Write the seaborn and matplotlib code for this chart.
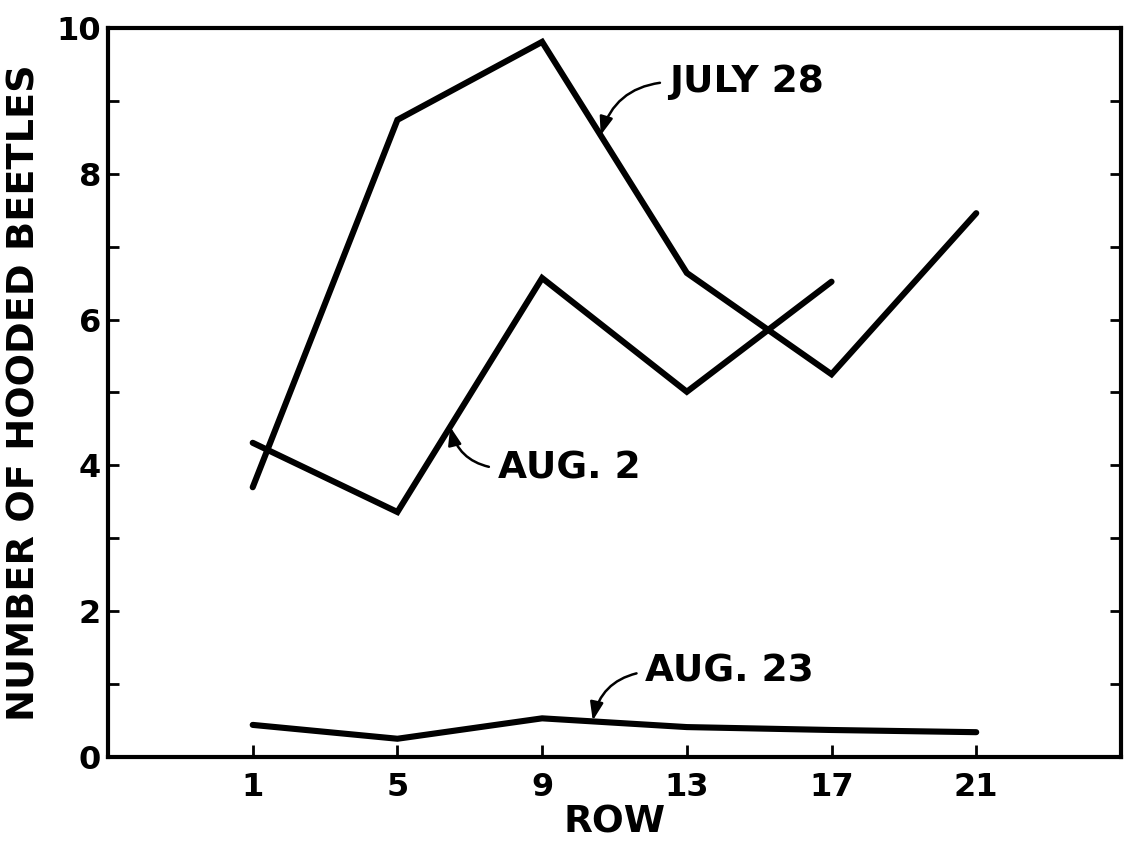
import matplotlib
matplotlib.use("Agg")
import matplotlib.pyplot as plt
import seaborn as sns

# Hooded beetle counts by row on three sampling dates
rows = [1, 5, 9, 13, 17, 21]
july_28 = [3.70, 8.74, 9.81, 6.64, 5.25, 7.46]
aug_2_rows = [1, 5, 9, 13, 17]
aug_2 = [4.31, 3.36, 6.57, 5.01, 6.52]
aug_23 = [0.44, 0.25, 0.53, 0.41, 0.37, 0.34]

y_major = [0, 2, 4, 6, 8, 10]
y_minor = [1, 3, 5, 7, 9]

sns.set_theme(style="ticks")
plt.rcParams["font.family"] = ["DejaVu Sans"]
plt.rcParams["font.weight"] = "bold"
plt.rcParams["text.color"] = "black"
plt.rcParams["axes.labelcolor"] = "black"

fig = plt.figure(figsize=(11.25, 8.49), dpi=100)
ax = fig.add_axes([0.096, 0.1084, 0.9004, 0.8586])

line_kw = dict(color="black", linewidth=4.4, solid_capstyle="round",
               solid_joinstyle="miter", legend=False)
sns.lineplot(x=rows, y=july_28, ax=ax, **line_kw)
sns.lineplot(x=aug_2_rows, y=aug_2, ax=ax, **line_kw)
sns.lineplot(x=rows, y=aug_23, ax=ax, **line_kw)

ax.set_xlim(-3, 25)
ax.set_ylim(0, 10)

for side in ["left", "right", "top", "bottom"]:
    ax.spines[side].set_visible(True)
    ax.spines[side].set_linewidth(3)
    ax.spines[side].set_color("black")

ax.set_xticks(rows)
ax.set_xticklabels([str(r) for r in rows])
ax.set_yticks(y_major)
ax.set_yticks(y_minor, minor=True)
ax.set_yticklabels([str(v) for v in y_major])

ax.tick_params(axis="both", which="both", direction="in", color="black",
               width=2, labelsize=23, labelcolor="black")
ax.tick_params(axis="x", which="major", length=9, pad=11, top=False)
ax.tick_params(axis="y", which="both", length=8, pad=5, right=True)

ax.set_xlabel("ROW", fontsize=27, fontweight="bold", labelpad=1)
ax.set_ylabel("NUMBER OF HOODED BEETLES", fontsize=27.5, fontweight="bold",
              labelpad=10)

arrow = dict(arrowstyle="-|>,head_length=0.55,head_width=0.2",
             color="black", lw=1.8, mutation_scale=20,
             shrinkA=4, shrinkB=0, relpos=(0, 0.5))

ax.annotate("JULY 28", xy=(10.62, 8.53), xytext=(12.5, 9.26),
            textcoords="data", fontsize=27, fontweight="bold",
            ha="left", va="center",
            arrowprops=dict(connectionstyle="arc3,rad=0.35", **arrow))
ax.annotate("AUG. 2", xy=(6.46, 4.53), xytext=(7.77, 3.96),
            textcoords="data", fontsize=27, fontweight="bold",
            ha="left", va="center",
            arrowprops=dict(connectionstyle="arc3,rad=-0.35", **arrow))
ax.annotate("AUG. 23", xy=(10.4, 0.5), xytext=(11.85, 1.17),
            textcoords="data", fontsize=27, fontweight="bold",
            ha="left", va="center",
            arrowprops=dict(connectionstyle="arc3,rad=0.35", **arrow))

fig.savefig("out.png", dpi=100, facecolor="white")
